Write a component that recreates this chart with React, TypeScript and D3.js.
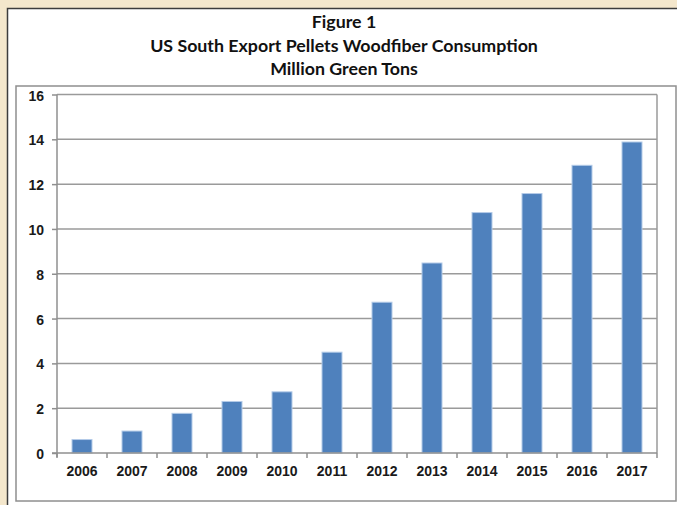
import React, { useEffect, useRef } from "react";
import * as d3 from "d3";

const years = ["2006", "2007", "2008", "2009", "2010", "2011", "2012", "2013", "2014", "2015", "2016", "2017"];
const consumption = [0.6, 0.98, 1.77, 2.3, 2.73, 4.5, 6.73, 8.48, 10.73, 11.58, 12.84, 13.88];
const yTicks = [0, 2, 4, 6, 8, 10, 12, 14, 16];
const titleLines = ["Figure 1", "US South Export Pellets Woodfiber Consumption", "Million Green Tons"];

const App = () => {
    const svgRef = useRef<SVGSVGElement>(null);

    useEffect(() => {
        const svg = d3.select(svgRef.current);
        svg.selectAll("*").remove();

        const width = 677;
        const height = 505;
        const plot = { left: 57, right: 657, top: 94.5, bottom: 453 };

        // page background and frames
        svg.append("rect").attr("width", width).attr("height", height).attr("fill", "#f4e7cc");
        svg.append("rect")
            .attr("x", 7.5).attr("y", 8.5)
            .attr("width", width).attr("height", height)
            .attr("fill", "white")
            .attr("stroke", "#3c3c3c")
            .attr("stroke-width", 1.5);
        svg.append("rect")
            .attr("x", 16).attr("y", 86)
            .attr("width", 660).attr("height", 415)
            .attr("fill", "white")
            .attr("stroke", "#8f8f8f")
            .attr("stroke-width", 1.5);

        // title
        svg.append("g")
            .selectAll("text")
            .data(titleLines)
            .enter()
            .append("text")
            .attr("x", 344)
            .attr("y", (d, i) => 28 + i * 23.5)
            .attr("text-anchor", "middle")
            .style("font-family", "Lato, 'Open Sans', sans-serif")
            .style("font-weight", "bold")
            .style("font-size", "17.8px")
            .style("fill", "#111")
            .text((d) => d);

        const x = d3.scaleBand().domain(years).range([plot.left, plot.right]).paddingInner(0.6).paddingOuter(0.3);
        const y = d3.scaleLinear().domain([0, 16]).range([plot.bottom, plot.top]);

        // gridlines
        svg.append("g")
            .selectAll("line")
            .data(yTicks.filter((t) => t > 0))
            .enter()
            .append("line")
            .attr("x1", plot.left).attr("x2", plot.right)
            .attr("y1", (d) => y(d)).attr("y2", (d) => y(d))
            .attr("stroke", "#9a9a9a")
            .attr("stroke-width", 1.5);

        // right border of plot
        svg.append("line")
            .attr("x1", plot.right).attr("x2", plot.right)
            .attr("y1", plot.top).attr("y2", plot.bottom)
            .attr("stroke", "#9a9a9a")
            .attr("stroke-width", 1.5);

        // bars
        svg.append("g")
            .selectAll("rect")
            .data(consumption)
            .enter()
            .append("rect")
            .attr("x", (d, i) => x(years[i]) as number)
            .attr("y", (d) => y(d))
            .attr("width", x.bandwidth())
            .attr("height", (d) => plot.bottom - y(d))
            .attr("fill", "#4f81bd")
            .attr("stroke", "#b4cbe8")
            .attr("stroke-width", 1);

        // y axis
        const yAxis = svg.append("g").attr("transform", `translate(${plot.left},0)`)
            .call(d3.axisLeft(y).tickValues(yTicks).tickSize(5).tickPadding(8).tickFormat(d3.format("d")));
        yAxis.select(".domain").attr("stroke", "#8f8f8f").attr("stroke-width", 1.5).attr("d", `M0,${plot.top}V${plot.bottom + 4}`);
        yAxis.selectAll(".tick line").attr("stroke", "#8f8f8f").attr("stroke-width", 1.5);
        yAxis.selectAll("text")
            .attr("dy", "0.4em")
            .style("font-family", "Arial, 'Liberation Sans', sans-serif")
            .style("font-weight", "bold")
            .style("font-size", "14px")
            .style("fill", "#1a1a1a");

        // x axis
        const step = x.step();
        const boundaries = d3.range(years.length + 1).map((i) => plot.left + i * step);
        const xAxis = svg.append("g");
        xAxis.append("line")
            .attr("x1", plot.left - 5).attr("x2", plot.right)
            .attr("y1", plot.bottom).attr("y2", plot.bottom)
            .attr("stroke", "#8f8f8f")
            .attr("stroke-width", 1.5);
        xAxis.selectAll(".xtick")
            .data(boundaries)
            .enter()
            .append("line")
            .attr("x1", (d) => d).attr("x2", (d) => d)
            .attr("y1", plot.bottom).attr("y2", plot.bottom + 5)
            .attr("stroke", "#8f8f8f")
            .attr("stroke-width", 1.5);
        xAxis.selectAll("text")
            .data(years)
            .enter()
            .append("text")
            .attr("x", (d) => (x(d) as number) + x.bandwidth() / 2)
            .attr("y", 476)
            .attr("text-anchor", "middle")
            .style("font-family", "Arial, 'Liberation Sans', sans-serif")
            .style("font-weight", "bold")
            .style("font-size", "14px")
            .style("fill", "#1a1a1a")
            .text((d) => d);
    }, []);

    return (
        <svg ref={svgRef} width={677} height={505} style={{ position: "absolute", left: 0, top: 0 }}></svg>
    );
};

export default App;
